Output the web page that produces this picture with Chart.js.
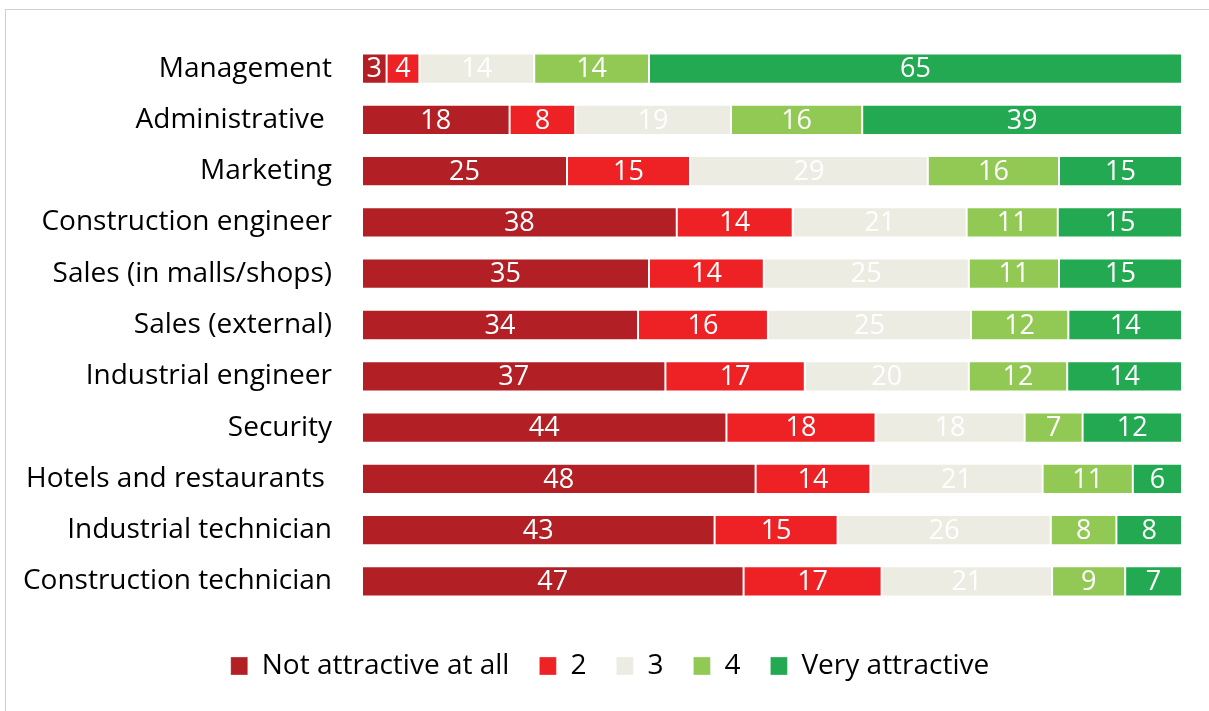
<!DOCTYPE html>
<html>
<head>
<meta charset="utf-8">
<script src="https://cdn.jsdelivr.net/npm/chart.js@4/dist/chart.umd.min.js"></script>
<style>
  html, body { margin: 0; padding: 0; background: #fff; }
  #wrap { position: relative; width: 1209px; height: 711px; overflow: hidden; }
  #frame { position: absolute; left: 5px; top: 9px; width: 1220px; height: 720px; border: 1px solid #cfcfcf; box-sizing: border-box; }
  canvas { position: absolute; left: 0; top: 0; }
</style>
</head>
<body>
<div id="wrap">
  <div id="frame"></div>
  <canvas id="c" width="1209" height="711"></canvas>
</div>
<script>
const categories = [
  "Management",
  "Administrative ",
  "Marketing",
  "Construction engineer",
  "Sales (in malls/shops)",
  "Sales (external)",
  "Industrial engineer",
  "Security",
  "Hotels and restaurants ",
  "Industrial technician",
  "Construction technician"
];
const seriesNames = ["Not attractive at all", "2", "3", "4", "Very attractive"];
const notAttractive = [3, 18, 25, 38, 35, 34, 37, 44, 48, 43, 47];
const two =           [4, 8, 15, 14, 14, 16, 17, 18, 14, 15, 17];
const three =         [14, 19, 29, 21, 25, 25, 20, 18, 21, 26, 21];
const four =          [14, 16, 16, 11, 11, 12, 12, 7, 11, 8, 9];
const veryAttractive = [65, 39, 15, 15, 15, 14, 14, 12, 6, 8, 7];
const colors = ["#B21F24", "#EE2124", "#ECECE2", "#92C955", "#23A952"];

const raw = [notAttractive, two, three, four, veryAttractive];
const totals = categories.map((_, i) => raw.reduce((s, arr) => s + arr[i], 0));

const FONT = "'Open Sans', 'Noto Sans', sans-serif";

const labelPlugin = {
  id: 'segLabels',
  afterDatasetsDraw(chart) {
    const ctx = chart.ctx;
    ctx.save();
    ctx.font = "27px " + FONT;
    ctx.fillStyle = "#ffffff";
    ctx.textAlign = "center";
    ctx.textBaseline = "middle";
    chart.data.datasets.forEach((ds, di) => {
      const meta = chart.getDatasetMeta(di);
      meta.data.forEach((bar, i) => {
        const x = (bar.x + bar.base) / 2;
        ctx.fillText(String(ds.rawValues[i]), x, bar.y + 1);
      });
    });
    ctx.restore();
  }
};

const legendShift = {
  id: 'legendShift',
  afterLayout(chart) {
    if (chart.legend) {
      chart.legend.left += 19;
      chart.legend.right += 19;
    }
  }
};

new Chart(document.getElementById('c'), {
  type: 'bar',
  data: {
    labels: categories,
    datasets: raw.map((arr, k) => ({
      label: seriesNames[k],
      rawValues: arr,
      data: arr.map((v, i) => v / totals[i] * 100),
      backgroundColor: colors[k],
      borderColor: "rgba(255,255,255,0.3)",
      borderWidth: 1,
      borderSkipped: false,
      barPercentage: 0.59,
      categoryPercentage: 1.0
    }))
  },
  options: {
    indexAxis: 'y',
    responsive: false,
    animation: false,
    layout: { padding: { top: 43, right: 27, left: 0, bottom: 21 } },
    scales: {
      x: {
        stacked: true, min: 0, max: 100,
        display: true,
        grid: { display: false },
        border: { display: false },
        ticks: { display: false },
        afterFit(scale) { scale.height = 15; }
      },
      y: {
        stacked: true,
        grid: { display: false },
        border: { display: false },
        ticks: { color: "#000", font: { family: FONT, size: 28 }, padding: 22 },
        afterFit(scale) { scale.width = 362; }
      }
    },
    plugins: {
      legend: {
        position: 'bottom',
        labels: {
          color: "#000",
          font: { family: FONT, size: 28 },
          boxWidth: 17,
          boxHeight: 18,
          padding: 30
        }
      },
      tooltip: { enabled: false }
    }
  },
  plugins: [labelPlugin, legendShift]
});
</script>
</body>
</html>
